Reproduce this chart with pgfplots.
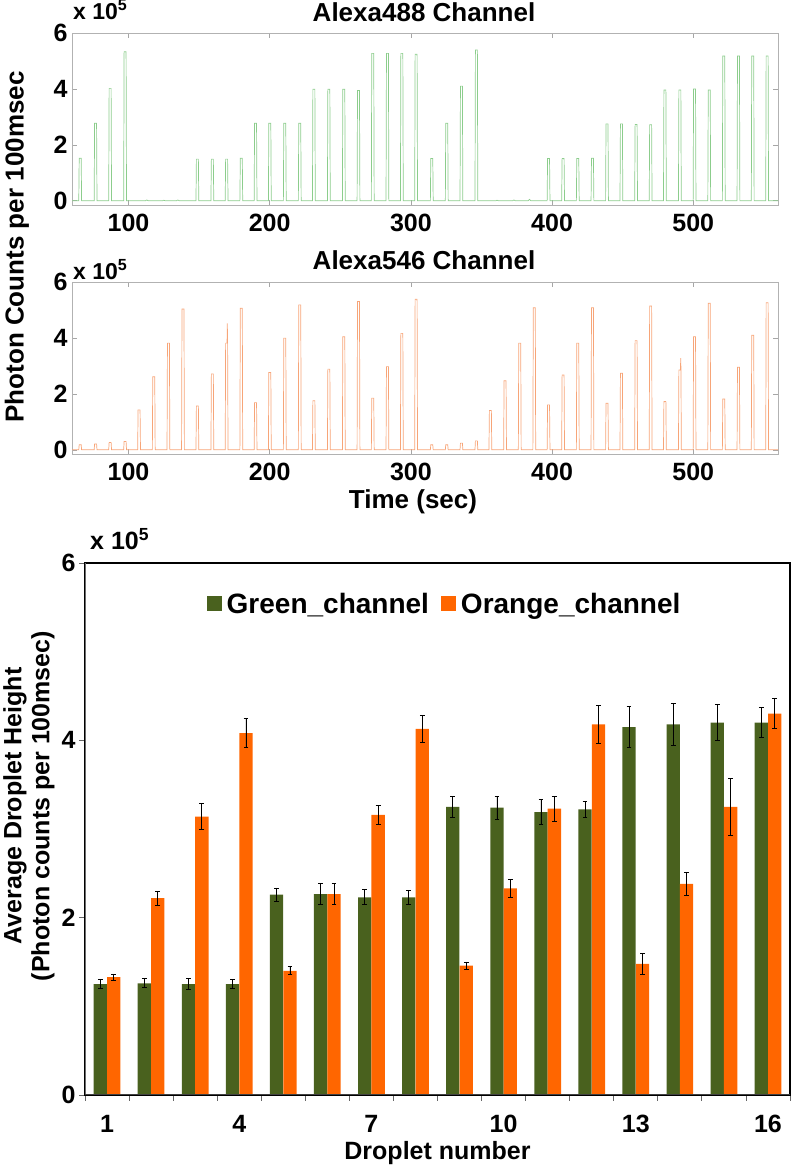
\documentclass[border=0pt]{standalone}
\usepackage{fontspec}
\setmainfont{Liberation Sans}
\usepackage{pgfplots}
\pgfplotsset{compat=1.18}
\definecolor{lgreen}{RGB}{140,205,140}
\definecolor{lorange}{RGB}{247,165,120}
\definecolor{dgreen}{RGB}{73,97,30}
\definecolor{orng}{RGB}{255,102,0}
\pgfplotsset{
  trace/.style={scale only axis, width=706pt, height=172pt,
    xmin=60, xmax=560, ymin=-0.15, ymax=6,
    xtick={100,200,300,400,500}, ytick={0,2,4,6}, yticklabels={0,2,4,6},
    axis line style={gray!60, line width=0.6pt},
    tick style={gray!70, line width=0.6pt}, tick align=inside, major tick length=5pt,
    tick label style={font=\fontsize{25}{25}\selectfont\bfseries},
    /pgf/number format/assume math mode=true,
    xticklabel style={yshift=-6pt}, yticklabel style={xshift=-1pt}},
}
\begin{document}
\begin{tikzpicture}[x=1pt,y=1pt]
\useasboundingbox (0pt,0pt) rectangle (793pt,1174pt);
% ---------- Alexa488 ----------
\begin{axis}[trace, at={(72pt,969pt)}, anchor=south west]
\addplot[lgreen, line width=0.7pt] coordinates {
(60,0)
(64.8,0)(65.1,1.52)(66.5,1.52)(66.8,0)
(75.7,0)(76.0,2.77)(77.4,2.77)(77.7,0)
(86.0,0)(86.3,4.02)(87.7,4.02)(88.0,0)
(96.6,0)(96.9,5.33)(98.3,5.33)(98.6,0)
(112,0)(113,0.03)(114,0)(124,0)(125,0.02)(126,0)(134,0)(135,0.03)(136,0)
(147.8,0)(148.1,1.49)(149.5,1.49)(149.8,0)
(158.4,0)(158.7,1.49)(160.1,1.49)(160.4,0)
(168.5,0)(168.8,1.49)(170.2,1.49)(170.5,0)
(178.9,0)(179.2,1.52)(180.6,1.52)(180.9,0)
(189.0,0)(189.3,2.77)(190.7,2.77)(191.0,0)
(199.1,0)(199.4,2.77)(200.8,2.77)(201.1,0)
(209.7,0)(210.0,2.77)(211.4,2.77)(211.7,0)
(220.3,0)(220.6,2.77)(222.0,2.77)(222.3,0)
(230.3,0)(230.6,3.99)(232.0,3.99)(232.3,0)
(240.9,0)(241.2,3.99)(242.6,3.99)(242.9,0)
(251.5,0)(251.8,3.99)(253.2,3.99)(253.5,0)
(261.9,0)(262.2,3.94)(263.6,3.94)(263.9,0)
(272.0,0)(272.3,5.27)(273.7,5.27)(274.0,0)
(282.4,0)(282.7,5.27)(284.1,5.27)(284.4,0)
(292.6,0)(292.9,5.27)(294.3,5.27)(294.6,0)
(302.7,0)(303.0,5.24)(304.4,5.24)(304.7,0)
(313.8,0)(314.1,1.51)(315.5,1.51)(315.8,0)
(324.4,0)(324.7,2.77)(326.1,2.77)(326.4,0)
(334.8,0)(335.1,4.10)(336.5,4.10)(336.8,0)
(345.4,0)(345.7,5.39)(347.1,5.39)(347.4,0)
(360,0)(361,0.02)(362,0)(372,0)(373,0.03)(374,0)(383,0)(384,0.05)(385,0)
(396.5,0)(396.8,1.51)(398.2,1.51)(398.5,0)
(406.8,0)(407.1,1.51)(408.5,1.51)(408.8,0)
(417.2,0)(417.5,1.51)(418.9,1.51)(419.2,0)
(427.6,0)(427.9,1.52)(429.3,1.52)(429.6,0)
(437.9,0)(438.2,2.75)(439.6,2.75)(439.9,0)
(448.1,0)(448.4,2.75)(449.8,2.75)(450.1,0)
(458.5,0)(458.8,2.73)(460.2,2.73)(460.5,0)
(468.8,0)(469.1,2.72)(470.5,2.72)(470.8,0)
(478.9,0)(479.2,3.96)(480.6,3.96)(480.9,0)
(489.5,0)(489.8,3.96)(491.2,3.96)(491.5,0)
(499.9,0)(500.2,4.00)(501.6,4.00)(501.9,0)
(510.3,0)(510.6,3.96)(512.0,3.96)(512.3,0)
(520.6,0)(520.9,5.18)(522.3,5.18)(522.6,0)
(531.0,0)(531.3,5.18)(532.7,5.18)(533.0,0)
(541.1,0)(541.4,5.18)(542.8,5.18)(543.1,0)
(551.3,0)(551.6,5.18)(553.0,5.18)(553.3,0)
(560,0)
};
\end{axis}
% ---------- Alexa546 ----------
\begin{axis}[trace, at={(72pt,720pt)}, anchor=south west, height=171.7pt]
\addplot[lorange, line width=0.7pt] coordinates {
(60,0)
(64.8,0)(65.1,0.18)(66.5,0.18)(66.8,0)
(75.7,0)(76.0,0.21)(77.4,0.21)(77.7,0)
(86.0,0)(86.3,0.26)(87.7,0.26)(88.0,0)
(96.6,0)(96.9,0.30)(98.3,0.30)(98.6,0)
(106.5,0)(106.8,1.43)(108.2,1.43)(108.5,0)
(116.9,0)(117.2,2.62)(118.6,2.62)(118.9,0)
(127.3,0)(127.6,3.82)(129.0,3.82)(129.3,0)
(137.6,0)(137.9,5.04)(139.3,5.04)(139.6,0)
(147.8,0)(148.1,1.57)(149.5,1.57)(149.8,0)
(158.4,0)(158.7,2.72)(160.1,2.72)(160.4,0)
(168.5,0)(168.8,3.82)(169.8,3.82)(170.0,4.53)(170.2,3.82)(170.5,0)
(178.9,0)(179.2,5.07)(180.6,5.07)(180.9,0)
(189.0,0)(189.3,1.69)(190.7,1.69)(191.0,0)
(199.1,0)(199.4,2.77)(200.8,2.77)(201.1,0)
(209.7,0)(210.0,4.00)(211.4,4.00)(211.7,0)
(220.3,0)(220.6,5.19)(222.0,5.19)(222.3,0)
(230.3,0)(230.6,1.76)(232.0,1.76)(232.3,0)
(240.9,0)(241.2,2.89)(242.6,2.89)(242.9,0)
(251.5,0)(251.8,4.05)(253.2,4.05)(253.5,0)
(261.9,0)(262.2,5.31)(263.6,5.31)(263.9,0)
(272.0,0)(272.3,1.85)(273.7,1.85)(274.0,0)
(282.4,0)(282.7,2.98)(284.1,2.98)(284.4,0)
(292.6,0)(292.9,4.17)(294.3,4.17)(294.6,0)
(302.7,0)(303.0,5.39)(304.4,5.39)(304.7,0)
(313.8,0)(314.1,0.18)(315.5,0.18)(315.8,0)
(324.4,0)(324.7,0.18)(326.1,0.18)(326.4,0)
(334.8,0)(335.1,0.24)(336.5,0.24)(336.8,0)
(345.4,0)(345.7,0.32)(347.1,0.32)(347.4,0)
(355.3,0)(355.6,1.41)(357.0,1.41)(357.3,0)
(365.7,0)(366.0,2.47)(367.4,2.47)(367.7,0)
(376.1,0)(376.4,3.82)(377.8,3.82)(378.1,0)
(386.4,0)(386.7,5.09)(388.1,5.09)(388.4,0)
(396.5,0)(396.8,1.61)(398.2,1.61)(398.5,0)
(406.8,0)(407.1,2.68)(408.5,2.68)(408.8,0)
(417.2,0)(417.5,3.82)(418.9,3.82)(419.2,0)
(427.6,0)(427.9,5.09)(429.3,5.09)(429.6,0)
(437.9,0)(438.2,1.67)(439.6,1.67)(439.9,0)
(448.1,0)(448.4,2.74)(449.8,2.74)(450.1,0)
(458.5,0)(458.8,3.91)(460.2,3.91)(460.5,0)
(468.8,0)(469.1,5.15)(470.5,5.15)(470.8,0)
(478.9,0)(479.2,1.73)(480.6,1.73)(480.9,0)
(489.5,0)(489.8,2.86)(490.9,2.86)(491.1,3.28)(491.3,2.86)(491.5,0)
(499.9,0)(500.2,4.05)(501.6,4.05)(501.9,0)
(510.3,0)(510.6,5.25)(512.0,5.25)(512.3,0)
(520.6,0)(520.9,1.82)(522.3,1.82)(522.6,0)
(531.0,0)(531.3,2.96)(532.7,2.96)(533.0,0)
(541.1,0)(541.4,4.10)(542.8,4.10)(543.1,0)
(551.3,0)(551.6,5.27)(553.0,5.27)(553.3,0)
(560,0)
};
\end{axis}
% texts of the two traces
\node[anchor=base, font=\fontsize{26}{26}\selectfont\bfseries] at (424pt,1152pt) {Alexa488 Channel};
\node[anchor=base, font=\fontsize{26}{26}\selectfont\bfseries] at (424pt,904pt) {Alexa546 Channel};
\node[anchor=base west, inner sep=0pt, font=\fontsize{23}{23}\selectfont\bfseries] at (73pt,1154pt) {x 10\textsuperscript{5}};
\node[anchor=base west, inner sep=0pt, font=\fontsize{23}{23}\selectfont\bfseries] at (73pt,894pt) {x 10\textsuperscript{5}};
\node[anchor=base, font=\fontsize{26}{26}\selectfont\bfseries] at (413pt,665pt) {Time (sec)};
\node[rotate=90, font=\fontsize{26}{26}\selectfont\bfseries] at (17pt,927pt) {Photon Counts per 100msec};
% ---------- Bar chart ----------
\begin{axis}[at={(85pt,79pt)}, anchor=south west, scale only axis, width=705pt, height=532pt,
  xmin=0.5, xmax=16.5, ymin=0, ymax=6,
  ytick={0,2,4,6}, yticklabels={0,2,4,6},
  xtick={0.5,1.5,...,16.5}, xticklabels={},
  extra x ticks={1,4,7,10,13,16}, extra x tick labels={1,4,7,10,13,16},
  extra x tick style={major tick length=0pt, tick label style={yshift=-17pt}},
  xtick pos=bottom, ytick pos=left, tick align=outside,
  major tick length=6pt,
  axis line style={black, line width=1.6pt},
  tick style={gray!80!black, line width=0.8pt},
  tick label style={font=\fontsize{25}{25}\selectfont\bfseries},
  /pgf/number format/assume math mode=true,
  ybar, bar width=13.3pt,
  legend style={at={(0.51,0.923)}, anchor=center, draw=none, fill=none,
    legend columns=2, font=\fontsize{28}{28}\selectfont\bfseries,
    /tikz/every even column/.append style={column sep=10pt}},
  legend image code/.code={\fill[#1] (0pt,-7pt) rectangle (15pt,8pt); \path (18pt,0pt);},
]
\addplot[fill=dgreen, draw=none, bar shift=-6.7pt,
  error bars/.cd, y dir=both, y explicit,
  error bar style={black, line width=0.8pt},
  error mark options={rotate=90, mark size=2.4pt, black, line width=0.8pt}]
  coordinates {
  (1,1.25) +- (0,0.05)
  (2,1.26) +- (0,0.05)
  (3,1.25) +- (0,0.06)
  (4,1.25) +- (0,0.05)
  (5,2.26) +- (0,0.075)
  (6,2.265) +- (0,0.12)
  (7,2.23) +- (0,0.085)
  (8,2.23) +- (0,0.08)
  (9,3.25) +- (0,0.12)
  (10,3.24) +- (0,0.13)
  (11,3.19) +- (0,0.14)
  (12,3.22) +- (0,0.09)
  (13,4.15) +- (0,0.23)
  (14,4.18) +- (0,0.24)
  (15,4.20) +- (0,0.20)
  (16,4.20) +- (0,0.17)
};
\addlegendentry{Green\_channel}
\addplot[fill=orng, draw=none, bar shift=6.7pt,
  error bars/.cd, y dir=both, y explicit,
  error bar style={black, line width=0.8pt},
  error mark options={rotate=90, mark size=2.4pt, black, line width=0.8pt}]
  coordinates {
  (1,1.33) +- (0,0.035)
  (2,2.22) +- (0,0.08)
  (3,3.14) +- (0,0.15)
  (4,4.08) +- (0,0.165)
  (5,1.40) +- (0,0.045)
  (6,2.265) +- (0,0.12)
  (7,3.16) +- (0,0.11)
  (8,4.13) +- (0,0.15)
  (9,1.46) +- (0,0.04)
  (10,2.33) +- (0,0.10)
  (11,3.23) +- (0,0.14)
  (12,4.18) +- (0,0.21)
  (13,1.48) +- (0,0.115)
  (14,2.38) +- (0,0.13)
  (15,3.25) +- (0,0.32)
  (16,4.30) +- (0,0.17)
};
\addlegendentry{Orange\_channel}
\draw[gray!85!black, line width=2pt] (rel axis cs:0,0) -- (rel axis cs:0,1);
\draw[black!75, line width=2pt] (rel axis cs:0,0) -- (rel axis cs:1,0);
\end{axis}
\node[anchor=base west, inner sep=0pt, font=\fontsize{25}{25}\selectfont\bfseries] at (90pt,624pt) {x 10\textsuperscript{5}};
\node[anchor=base, font=\fontsize{25}{25}\selectfont\bfseries] at (437.5pt,14pt) {Droplet number};
\node[rotate=90, align=center, font=\fontsize{25}{28}\selectfont\bfseries] at (29pt,368pt) {Average Droplet Height\\(Photon counts per 100msec)};
\end{tikzpicture}
\end{document}
